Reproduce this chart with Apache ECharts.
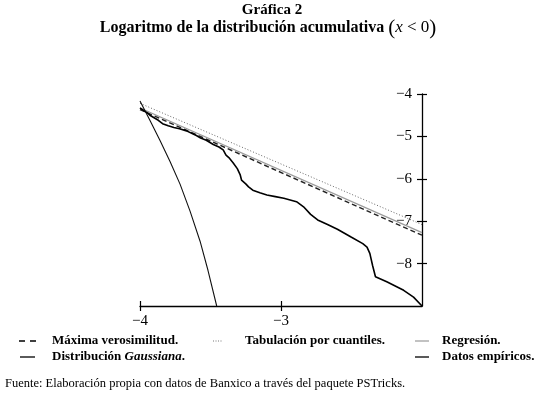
<!DOCTYPE html>
<html>
<head>
<meta charset="utf-8">
<script src="https://cdn.jsdelivr.net/npm/echarts@6/dist/echarts.min.js"></script>
<style>
html, body { margin: 0; padding: 0; background: #fff; }
#chart { width: 544px; height: 395px; }
</style>
</head>
<body>
<div id="chart"></div>
<script>
// datos
var xTicks = [-4, -3];
var yTicks = [-8, -7, -6, -5, -4];

var mvX = [-4, -2];          // Máxima verosimilitud
var mvY = [-4.37, -7.33];
var tabX = [-4, -2];         // Tabulación por cuantiles
var tabY = [-4.22, -7.08];
var regX = [-4, -2];         // Regresión
var regY = [-4.33, -7.27];

var gaussX = [-4, -3.929, -3.858, -3.787, -3.716, -3.645, -3.574, -3.518, -3.456];
var gaussY = [-4.165, -4.626, -5.098, -5.594, -6.126, -6.763, -7.472, -8.157, -9.0];

var empX = [-4.0, -3.97, -3.95, -3.93, -3.90, -3.87, -3.84, -3.80, -3.76, -3.72, -3.67, -3.63, -3.60, -3.57,
    -3.53, -3.48, -3.44, -3.41, -3.39, -3.37, -3.34, -3.31, -3.29, -3.28, -3.25, -3.23, -3.20, -3.15, -3.10,
    -3.04, -2.98, -2.89, -2.84, -2.79, -2.74, -2.67, -2.60, -2.50, -2.42, -2.39, -2.37, -2.35, -2.33, -2.25,
    -2.13, -2.06, -2.0];
var empY = [-4.33, -4.40, -4.44, -4.50, -4.56, -4.62, -4.70, -4.75, -4.79, -4.82, -4.87, -4.93, -4.98, -5.04,
    -5.09, -5.19, -5.25, -5.32, -5.44, -5.50, -5.62, -5.76, -5.90, -6.03, -6.12, -6.19, -6.27, -6.33, -6.38,
    -6.42, -6.46, -6.54, -6.66, -6.84, -6.97, -7.08, -7.19, -7.38, -7.53, -7.61, -7.76, -8.05, -8.31, -8.43,
    -8.63, -8.79, -9.0];

var pair = function (xs, ys) {
    var res = [];
    for (var i = 0; i < xs.length; i++) res.push([xs[i], ys[i]]);
    return res;
};
var minus = function (v) { return v < 0 ? '\u2212' + Math.abs(v) : '' + v; };

var serif = '"Liberation Serif", "DejaVu Serif", serif';

var chart = echarts.init(document.getElementById('chart'));
var lineSeries = function (name, data, color, width, dash, z) {
    return {
        name: name, type: 'line', data: data, showSymbol: false, symbol: 'none',
        lineStyle: { color: color, width: width, type: dash }, z: z, silent: true
    };
};

var option = {
    animation: false,
    grid: { left: 140, right: 122, top: 94, bottom: 89 },
    xAxis: [{
        type: 'value', min: -4, max: -2, interval: 1, splitLine: { show: false },
        axisLine: { onZero: false, lineStyle: { color: '#000', width: 1.3 } },
        axisTick: { customValues: xTicks, length: 5, lineStyle: { color: '#000', width: 1.2 } },
        axisLabel: { customValues: xTicks, formatter: function (v) { return v === -2 ? '' : minus(v); },
            margin: 8, color: '#000', fontFamily: serif, fontSize: 15 }
    }, {
        type: 'value', min: -4, max: -2, interval: 1, position: 'bottom', splitLine: { show: false },
        axisLine: { show: false },
        axisTick: { customValues: xTicks, inside: true, length: 5, lineStyle: { color: '#000', width: 1.2 } },
        axisLabel: { show: false }
    }],
    yAxis: [{
        type: 'value', min: -9, max: -4, interval: 1, position: 'right', splitLine: { show: false },
        axisLine: { onZero: false, lineStyle: { color: '#000', width: 1.3 } },
        axisTick: { customValues: yTicks, length: 5, lineStyle: { color: '#000', width: 1.2 } },
        axisLabel: { customValues: yTicks, inside: true, formatter: function (v) { return v === -9 ? '' : minus(v); },
            margin: 10, color: '#000', fontFamily: serif, fontSize: 15 }
    }, {
        type: 'value', min: -9, max: -4, interval: 1, position: 'right', splitLine: { show: false },
        axisLine: { show: false },
        axisTick: { customValues: yTicks, inside: true, length: 5, lineStyle: { color: '#000', width: 1.2 } },
        axisLabel: { show: false }
    }],
    series: [
        lineSeries('Regresión', pair(regX, regY), '#9a9a9a', 1.3, 'solid', 2),
        lineSeries('Máxima verosimilitud', pair(mvX, mvY), '#222', 1.4, [5, 3], 3),
        lineSeries('Tabulación por cuantiles', pair(tabX, tabY), '#666', 1, [1, 2], 3),
        lineSeries('Distribución Gaussiana', pair(gaussX, gaussY), '#111', 1.1, 'solid', 4),
        lineSeries('Datos empíricos', pair(empX, empY), '#000', 1.6, 'solid', 5)
    ],
    graphic: [
        { type: 'text', left: 'center', top: 3, style: {
            text: 'Gráfica 2', font: 'bold 15px ' + serif, fill: '#000' } },
        { type: 'text', x: 268, y: 28, style: {
            text: 'Logaritmo de la distribución acumulativa {p|(}{i|x}{m| < 0}{p|)}',
            font: 'bold 16px ' + serif, fill: '#000', align: 'center', verticalAlign: 'middle',
            rich: {
                p: { fontFamily: serif, fontSize: 21, fontWeight: 'normal' },
                i: { fontFamily: serif, fontSize: 17, fontStyle: 'italic', fontWeight: 'normal' },
                m: { fontFamily: serif, fontSize: 17, fontWeight: 'normal' }
            } } },

        // leyenda
        { type: 'line', shape: { x1: 19, y1: 341, x2: 36, y2: 341 },
            style: { stroke: '#000', lineWidth: 1.3, lineDash: [6, 5] } },
        { type: 'text', x: 52, y: 341, style: { text: 'Máxima verosimilitud.',
            font: 'bold 13px ' + serif, fill: '#000', verticalAlign: 'middle' } },
        { type: 'line', shape: { x1: 213, y1: 341, x2: 223, y2: 341 },
            style: { stroke: '#777', lineWidth: 1, lineDash: [1, 1.5] } },
        { type: 'text', x: 245, y: 341, style: { text: 'Tabulación por cuantiles.',
            font: 'bold 13px ' + serif, fill: '#000', verticalAlign: 'middle' } },
        { type: 'line', shape: { x1: 415, y1: 341, x2: 429, y2: 341 },
            style: { stroke: '#9a9a9a', lineWidth: 1.2 } },
        { type: 'text', x: 442, y: 341, style: { text: 'Regresión.',
            font: 'bold 13px ' + serif, fill: '#000', verticalAlign: 'middle' } },
        { type: 'line', shape: { x1: 20, y1: 357, x2: 35, y2: 357 },
            style: { stroke: '#000', lineWidth: 1.3 } },
        { type: 'text', x: 52, y: 357, style: { text: 'Distribución {i|Gaussiana}.',
            font: 'bold 13px ' + serif, fill: '#000', verticalAlign: 'middle',
            rich: { i: { fontFamily: serif, fontSize: 13, fontWeight: 'bold', fontStyle: 'italic' } } } },
        { type: 'line', shape: { x1: 415, y1: 357, x2: 429, y2: 357 },
            style: { stroke: '#000', lineWidth: 1.3 } },
        { type: 'text', x: 442, y: 357, style: { text: 'Datos empíricos.',
            font: 'bold 13px ' + serif, fill: '#000', verticalAlign: 'middle' } },

        { type: 'text', x: 5, y: 384, style: {
            text: 'Fuente: Elaboración propia con datos de Banxico a través del paquete PSTricks.',
            font: '12.5px ' + serif, fill: '#000', verticalAlign: 'middle' } }
    ]
};
chart.setOption(option);
</script>
</body>
</html>
